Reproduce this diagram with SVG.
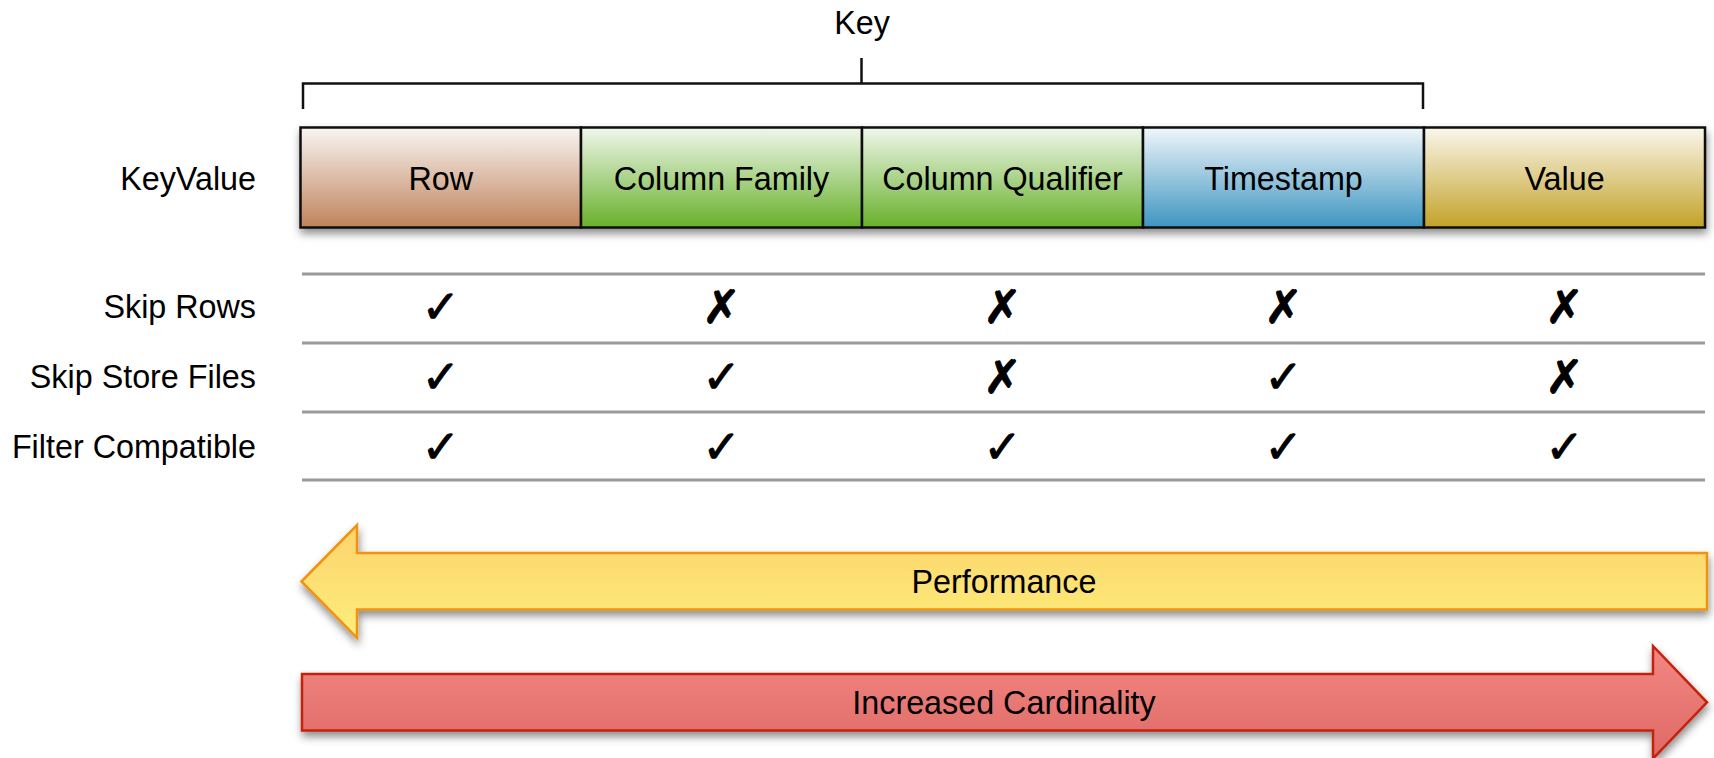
<svg xmlns="http://www.w3.org/2000/svg" width="1714" height="758" viewBox="0 0 1714 758">
<defs>
<linearGradient id="gRow" x1="0" y1="0" x2="0" y2="1"><stop offset="0" stop-color="#f9f5f3"/><stop offset="1" stop-color="#bf835b"/></linearGradient>
<linearGradient id="gGreen" x1="0" y1="0" x2="0" y2="1"><stop offset="0" stop-color="#f0f7ec"/><stop offset="1" stop-color="#68b02a"/></linearGradient>
<linearGradient id="gBlue" x1="0" y1="0" x2="0" y2="1"><stop offset="0" stop-color="#f0f6fa"/><stop offset="1" stop-color="#3e95c1"/></linearGradient>
<linearGradient id="gGold" x1="0" y1="0" x2="0" y2="1"><stop offset="0" stop-color="#faf7ec"/><stop offset="1" stop-color="#c3a228"/></linearGradient>
<linearGradient id="gYellow" x1="0" y1="0" x2="0" y2="1"><stop offset="0" stop-color="#fcd36c"/><stop offset="1" stop-color="#fdee7a"/></linearGradient>
<linearGradient id="gRed" x1="0" y1="0" x2="0" y2="1"><stop offset="0" stop-color="#f28783"/><stop offset="1" stop-color="#df6965"/></linearGradient>
<filter id="shadow" x="-5%" y="-30%" width="110%" height="170%">
<feDropShadow dx="1" dy="5" stdDeviation="4" flood-color="#000" flood-opacity="0.45"/>
</filter>
</defs>
<style>
text{font-family:"Liberation Sans",Arial,sans-serif;font-size:32.3px;fill:#000}
.lbl{text-anchor:end}
.mid{text-anchor:middle}
.cell{stroke:#111;stroke-width:2.5}
.rule{stroke:#9a9a9a;stroke-width:3}
.mark{font-family:"DejaVu Sans",sans-serif;font-size:46px;text-anchor:middle;stroke:#000;stroke-width:1}
.br{fill:none;stroke:#111;stroke-width:2.5}
</style>
<rect width="1714" height="758" fill="#fff"/>

<g id="key-label"><text class="mid" x="862" y="33.5">Key</text></g>

<g id="connectors">
<path class="br" d="M303,109 V83.5 H1423 V109 M861.5,58 V83.5"/>
</g>

<g id="row-labels">
<text class="lbl" x="256" y="189.5">KeyValue</text>
<text class="lbl" x="256" y="317.5">Skip Rows</text>
<text class="lbl" x="256" y="387.5">Skip Store Files</text>
<text class="lbl" x="256" y="457.5">Filter Compatible</text>
</g>

<g id="keyvalue" filter="url(#shadow)">
<g id="cell-row"><rect class="cell" x="300.5" y="127.5" width="280.5" height="100" fill="url(#gRow)"/></g>
<g id="cell-family"><rect class="cell" x="581" y="127.5" width="281" height="100" fill="url(#gGreen)"/></g>
<g id="cell-qualifier"><rect class="cell" x="862" y="127.5" width="281" height="100" fill="url(#gGreen)"/></g>
<g id="cell-timestamp"><rect class="cell" x="1143" y="127.5" width="281" height="100" fill="url(#gBlue)"/></g>
<g id="cell-value"><rect class="cell" x="1424" y="127.5" width="281" height="100" fill="url(#gGold)"/></g>
</g>
<g id="cell-texts">
<text class="mid" x="440.7" y="189.5">Row</text>
<text class="mid" x="721.5" y="189.5">Column Family</text>
<text class="mid" x="1002.5" y="189.5">Column Qualifier</text>
<text class="mid" x="1283.5" y="189.5">Timestamp</text>
<text class="mid" x="1564.5" y="189.5">Value</text>
</g>

<g id="table">
<line class="rule" x1="302" y1="274" x2="1705" y2="274"/>
<line class="rule" x1="302" y1="343" x2="1705" y2="343"/>
<line class="rule" x1="302" y1="412" x2="1705" y2="412"/>
<line class="rule" x1="302" y1="480" x2="1705" y2="480"/>
<g id="marks-skip-rows">
<text class="mark" x="440.7" y="323">✓</text>
<text class="mark" x="721.5" y="323">✗</text>
<text class="mark" x="1002.5" y="323">✗</text>
<text class="mark" x="1283.5" y="323">✗</text>
<text class="mark" x="1564.5" y="323">✗</text>
</g>
<g id="marks-skip-store-files">
<text class="mark" x="440.7" y="393">✓</text>
<text class="mark" x="721.5" y="393">✓</text>
<text class="mark" x="1002.5" y="393">✗</text>
<text class="mark" x="1283.5" y="393">✓</text>
<text class="mark" x="1564.5" y="393">✗</text>
</g>
<g id="marks-filter-compatible">
<text class="mark" x="440.7" y="463">✓</text>
<text class="mark" x="721.5" y="463">✓</text>
<text class="mark" x="1002.5" y="463">✓</text>
<text class="mark" x="1283.5" y="463">✓</text>
<text class="mark" x="1564.5" y="463">✓</text>
</g>
</g>

<g id="performance-arrow">
<path d="M301.5,581.5 L357,525 L357,553 L1707,553 L1707,609.5 L357,609.5 L357,638 Z" fill="url(#gYellow)" stroke="#ef9312" stroke-width="2.5" stroke-linejoin="miter" filter="url(#shadow)"/>
<text class="mid" x="1004" y="593">Performance</text>
</g>

<g id="cardinality-arrow">
<path d="M302,674 L1653,674 L1653,646 L1707,702.3 L1653,758.6 L1653,730.5 L302,730.5 Z" fill="url(#gRed)" stroke="#c4210d" stroke-width="2.5" filter="url(#shadow)"/>
<text class="mid" x="1004" y="713.5">Increased Cardinality</text>
</g>
</svg>
